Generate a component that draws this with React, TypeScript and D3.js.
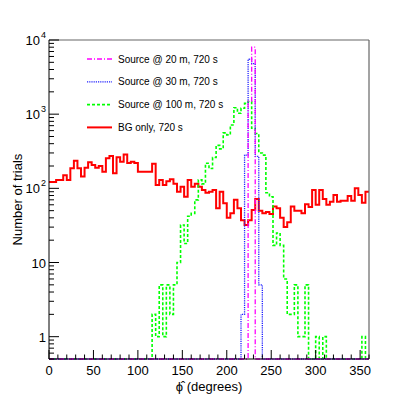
import * as d3 from "d3";

// 4-degree bins over the full circle
const binWidth = 4;
const phiDomain = [0, 360];
const countDomain = [0.5, 1e4];

// background only, bins 0..356
const bgCounts = [
  122, 122, 130, 130, 150, 130, 187, 236, 187, 144,
  190, 225, 207, 190, 200, 168, 254, 273, 160, 262,
  229, 285, 220, 229, 220, 168, 168, 168, 168, 215,
  111, 130, 111, 125, 133, 115, 90, 105, 77, 130,
  105, 115, 105, 95, 87, 90, 95, 54, 90, 63,
  40, 46, 70, 54, 37, 32, 37, 51, 72, 50,
  46, 48, 45, 57, 54, 40, 30, 35, 57, 50,
  50, 46, 61, 56, 95, 60, 95, 72, 60, 66,
  81, 66, 68, 68, 79, 68, 100, 81, 64, 90,
];

// source @ 100 m, first non-empty bin at 116 deg
const src100Start = 116;
const src100Counts = [
  2, 1, 5, 1, 5, 2, 5, 10, 32, 18,
  42, 46, 70, 130, 115, 218, 185, 260, 380, 340,
  560, 525, 715, 1220, 1030, 1200, 1400, 1480, 645, 550,
  300, 280, 87, 77, 17, 25, 17, 6, 2, 2,
  5, 1, 1, 5, 0, 0, 1, 0, 1, 0,
  0, 0, 0, 0, 0, 0, 0, 0, 0, 1,
];

// source @ 30 m
const src30Start = 216;
const src30Counts = [2, 280, 5500, 4800, 270, 5];

// source @ 20 m
const src20Start = 224;
const src20Counts = [1500, 8000];

const xMajorTicks = [0, 50, 100, 150, 200, 250, 300, 350];
const yDecades = [1, 10, 100, 1000, 10000];
const yTickLabels = [
  { base: "1", exp: "" },
  { base: "10", exp: "" },
  { base: "10", exp: "2" },
  { base: "10", exp: "3" },
  { base: "10", exp: "4" },
];

const legendLabels = [
  "Source @ 20 m, 720 s",
  "Source @ 30 m, 720 s",
  "Source @ 100 m, 720 s",
  "BG only, 720 s",
];

const nBins = 360 / binWidth;

function fillBins(start: number, counts: number[]) {
  const out = new Array(nBins).fill(0);
  counts.forEach((c, i) => {
    out[start / binWidth + i] = c;
  });
  return out;
}

const W = 411;
const H = 399;
const left = 49;
const right = 369;
const top = 40;
const bottom = 359;
const font = "'Liberation Sans', Arial, Helvetica, sans-serif";

export default function App() {
  const x = d3.scaleLinear().domain(phiDomain).range([left, right]);
  const y = d3.scaleLog().domain(countDomain).range([bottom, top]);

  const stepLine = (vals: number[]) => {
    const pts: [number, number][] = vals.map((v, i) => [i * binWidth, v]);
    pts.push([phiDomain[1], vals[vals.length - 1]]);
    return d3
      .line<[number, number]>()
      .x((d) => x(d[0]))
      .y((d) => y(Math.max(d[1], countDomain[0])))
      .curve(d3.curveStepAfter)(pts) as string;
  };

  const series = [
    { vals: bgCounts, color: "#ff0000", width: 2, dash: "" },
    { vals: fillBins(src100Start, src100Counts), color: "#00ff00", width: 1.6, dash: "3 2" },
    { vals: fillBins(src30Start, src30Counts), color: "#2020ff", width: 1.3, dash: "1.2 1" },
    { vals: fillBins(src20Start, src20Counts), color: "#ff00ff", width: 1.3, dash: "5 2 1 2" },
  ];
  // legend order is the reverse of drawing order
  const legendStyles = [series[3], series[2], series[1], series[0]];

  const xMinor = d3.range(0, 361, 10).filter((t) => t % 50 !== 0);
  const yMinor: number[] = [];
  [0.1, 1, 10, 100, 1000].forEach((dec) => {
    for (let m = 2; m <= 9; m++) {
      const v = dec * m;
      if (v >= countDomain[0] && v <= countDomain[1]) yMinor.push(v);
    }
  });

  return (
    <svg
      width={W}
      height={H}
      style={{ position: "absolute", left: 0, top: 0, background: "#fff" }}
      fontFamily={font}
    >
      <rect x={0} y={0} width={W} height={H} fill="#fff" />

      {series.map((s, i) => (
        <path
          key={i}
          d={stepLine(s.vals)}
          fill="none"
          stroke={s.color}
          strokeWidth={s.width}
          strokeDasharray={s.dash || undefined}
        />
      ))}

      {/* frame */}
      <line x1={left} x2={right} y1={top} y2={top} stroke="#666" strokeWidth={1.2} />
      <line x1={right} x2={right} y1={top} y2={bottom} stroke="#666" strokeWidth={1.2} />
      <line x1={left} x2={left} y1={top} y2={bottom} stroke="#000" strokeWidth={1} />
      <line x1={left} x2={right} y1={bottom} y2={bottom} stroke="#000" strokeWidth={1} />

      {/* x ticks */}
      {xMajorTicks.map((t) => (
        <g key={"xm" + t}>
          <line x1={x(t)} x2={x(t)} y1={bottom} y2={bottom - 9} stroke="#000" />
          <text x={x(t)} y={375} fontSize={13} textAnchor="middle">
            {t}
          </text>
        </g>
      ))}
      {xMinor.map((t) => (
        <line key={"xn" + t} x1={x(t)} x2={x(t)} y1={bottom} y2={bottom - 4.5} stroke="#000" />
      ))}

      {/* y ticks */}
      {yDecades.map((v, i) => (
        <g key={"ym" + v}>
          <line x1={left} x2={left + 10} y1={y(v)} y2={y(v)} stroke="#000" />
          <text x={yTickLabels[i].exp ? 40 : 46} y={y(v) + 5} fontSize={13} textAnchor="end">
            {yTickLabels[i].base}
          </text>
          {yTickLabels[i].exp && (
            <text x={41} y={y(v) - 2} fontSize={9}>
              {yTickLabels[i].exp}
            </text>
          )}
        </g>
      ))}
      {yMinor.map((v) => (
        <line key={"yn" + v} x1={left} x2={left + 5} y1={y(v)} y2={y(v)} stroke="#000" />
      ))}

      {/* axis titles */}
      <text x={209} y={391} fontSize={13} textAnchor="middle">
        {"\u03d5\u0302 (degrees)"}
      </text>
      <text
        transform={`translate(22, ${(top + bottom) / 2}) rotate(-90)`}
        fontSize={13}
        textAnchor="middle"
      >
        Number of trials
      </text>

      {/* legend */}
      {legendLabels.map((lab, i) => {
        const ly = 59 + i * 22.8;
        const s = legendStyles[i];
        return (
          <g key={lab}>
            <line
              x1={87}
              x2={112}
              y1={ly}
              y2={ly}
              stroke={s.color}
              strokeWidth={s.width}
              strokeDasharray={s.dash || undefined}
            />
            <text x={118} y={ly + 3.6} fontSize={10}>
              {lab}
            </text>
          </g>
        );
      })}
    </svg>
  );
}
